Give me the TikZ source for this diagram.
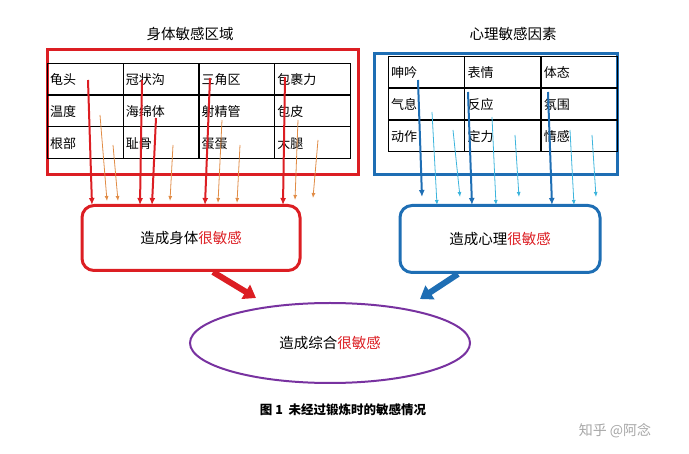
\documentclass[tikz,border=0pt]{standalone}
\usepackage{fontspec}
\newfontfamily\cjk{Noto Sans CJK SC}
\usetikzlibrary{arrows.meta, positioning, shapes.geometric}
\definecolor{bodyred}{RGB}{220,30,35}
\definecolor{skinorange}{RGB}{225,140,70}
\definecolor{mindblue}{RGB}{30,110,180}
\definecolor{lightblue}{RGB}{60,180,220}
\definecolor{ringpurple}{RGB}{120,50,160}

\begin{document}
\begin{tikzpicture}[x=1pt, y=-1pt,
    cell/.style={draw, thin, minimum width=76pt, minimum height=31.5pt, anchor=north west, inner sep=2pt, font=\cjk\fontsize{13}{14}\selectfont},
    tag/.style={font=\cjk\fontsize{14.5}{16}\selectfont},
    redarrow/.style={-{Latex[length=7pt,width=6pt]}, line width=2pt, bodyred},
    orangearrow/.style={-{Latex[length=5pt,width=4pt]}, line width=0.8pt, skinorange},
    bluearrow/.style={-{Latex[length=7pt,width=6pt]}, line width=2pt, mindblue},
    ltarrow/.style={-{Latex[length=5pt,width=4pt]}, line width=0.8pt, lightblue},
    fatarrow/.style={-{Triangle[length=12pt,width=16pt]}, line width=6pt}
]
\useasboundingbox (0,0) rectangle (689,454);

% Titles
\node[tag] (bodytitle) at (190,34) {身体敏感区域};
\node[tag] (mindtitle) at (513,34) {心理敏感因素};

% Body area frame and table
\draw[bodyred, line width=3pt] (47,50) rectangle (358,175);
\foreach \txt [count=\i from 0] in {龟头,冠状沟,三角区,包裹力,温度,海绵体,射精管,包皮,根部,耻骨,蛋蛋,大腿}{
  \pgfmathtruncatemacro\col{mod(\i,4)}
  \pgfmathtruncatemacro\row{div(\i,4)}
  \node[cell, align=left, text width=70pt, text height=13pt] (b\i) at (47+75.7*\col, 63+31.7*\row) {\txt};
}

% Mind factor frame and table
\draw[mindblue, line width=3pt] (374,54) rectangle (617,175);
\foreach \txt [count=\i from 0] in {呻吟,表情,体态,气息,反应,氛围,动作,定力,情感}{
  \pgfmathtruncatemacro\col{mod(\i,3)}
  \pgfmathtruncatemacro\row{div(\i,3)}
  \node[cell, align=left, text width=70pt, text height=13pt] (m\i) at (388+76.3*\col, 56+32*\row) {\txt};
}

% Result boxes
\node[draw=bodyred, line width=3pt, rounded corners=12pt, minimum width=218pt, minimum height=65pt, tag] (bodybox) at (191,238) {造成身体\textcolor{bodyred}{很敏感}};
\node[draw=mindblue, line width=3pt, rounded corners=12pt, minimum width=200pt, minimum height=67pt, tag] (mindbox) at (500,239) {造成心理\textcolor{bodyred}{很敏感}};
\node[draw=ringpurple, line width=2pt, ellipse, inner sep=0pt, minimum width=280pt, minimum height=80pt, tag] (total) at (330,343) {造成综合\textcolor{bodyred}{很敏感}};

% Arrows from body table
\foreach \a/\b/\c/\d in {88/80/92/205, 142/80/140/205, 156/118/152/205, 210/78/205/205, 285/77/283/205}
  \draw[redarrow] (\a,\b) -- (\c,\d);
\foreach \a/\b/\c/\d in {100/115/107/201, 113/145/118/201, 173/145/170/201, 222/120/218/203, 240/145/237/203, 298/120/295/200, 318/140/313/198}
  \draw[orangearrow] (\a,\b) -- (\c,\d);

% Arrows from mind table
\foreach \a/\b/\c/\d in {418/80/422/197, 468/92/472/205, 548/92/552/205}
  \draw[bluearrow] (\a,\b) -- (\c,\d);
\foreach \a/\b/\c/\d in {432/112/437/205, 453/130/460/197, 492/117/496/205, 515/135/519/197, 570/130/574/205, 592/135/596/197}
  \draw[ltarrow] (\a,\b) -- (\c,\d);

% Into the combined result
\draw[fatarrow, bodyred] (bodybox.south) ++(22,0) coordinate (bs) -- (256,298);
\draw[fatarrow, mindblue] (mindbox.south) ++(-42,0) coordinate (ms) -- (420,299);

% Caption and mark
\node[font=\cjk\bfseries\fontsize{12.5}{14}\selectfont] (caption) at (343,410) {图 1\ \ 未经过锻炼时的敏感情况};
\node[font=\cjk\fontsize{14}{16}\selectfont, text=black!35] (mark) at (615,431) {知乎 @阿念};
\end{tikzpicture}
\end{document}
